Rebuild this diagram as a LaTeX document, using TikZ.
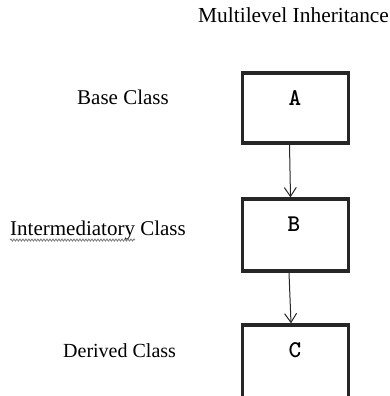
\documentclass[tikz,border=0pt]{standalone}
\usepackage{fontspec}
\setmainfont{Liberation Serif}
\usetikzlibrary{arrows.meta,decorations.pathmorphing}
\begin{document}
\begin{tikzpicture}[x=1pt,y=-1pt,
  classbox/.style={draw=black!85,line width=3.3pt,minimum width=106pt,inner sep=0pt},
  letter/.style={font=\ttfamily\bfseries\fontsize{24}{24}\selectfont,anchor=base,inner sep=0pt},
  caption/.style={font=\fontsize{21}{21}\selectfont,anchor=base west,inner sep=0pt},
  inherit/.style={draw=black!85,line width=1pt,-{Straight Barb[length=9pt,width=12pt,line width=1pt]}}]
  \useasboundingbox (0,0) rectangle (389,396);
  \clip (0,0) rectangle (389,396);

  % title
  \node[caption,font=\fontsize{21.4}{21.4}\selectfont] (title) at (198,23) {Multilevel Inheritance};

  % level captions
  \node[caption] (base) at (77,104) {Base Class};
  \node[caption] (inter) at (10,235) {Intermediatory Class};
  \node[caption,font=\fontsize{20}{20}\selectfont] (derived) at (63,357) {Derived Class};
  % spell-check squiggle under the first word
  \draw[gray,line width=0.9pt,decorate,decoration={snake,amplitude=1pt,segment length=3pt}]
    (10,240) -- (135,240);

  % class boxes
  \node[classbox,minimum height=70pt] (A) at (295.5,108) {};
  \node[classbox,minimum height=72pt] (B) at (295.5,235) {};
  \node[classbox,minimum height=74pt] (C) at (295.5,362) {};

  \node[letter] (la) at (295,105.5) {A};
  \node[letter] (lb) at (294,231.5) {B};
  \node[letter] (lc) at (295,357.5) {C};

  % inheritance arrows
  \draw[inherit] ([xshift=-6pt]A.south) -- ([xshift=-5pt]B.north);
  \draw[inherit] ([xshift=-6.5pt]B.south) -- ([xshift=-4.5pt]C.north);
\end{tikzpicture}
\end{document}
